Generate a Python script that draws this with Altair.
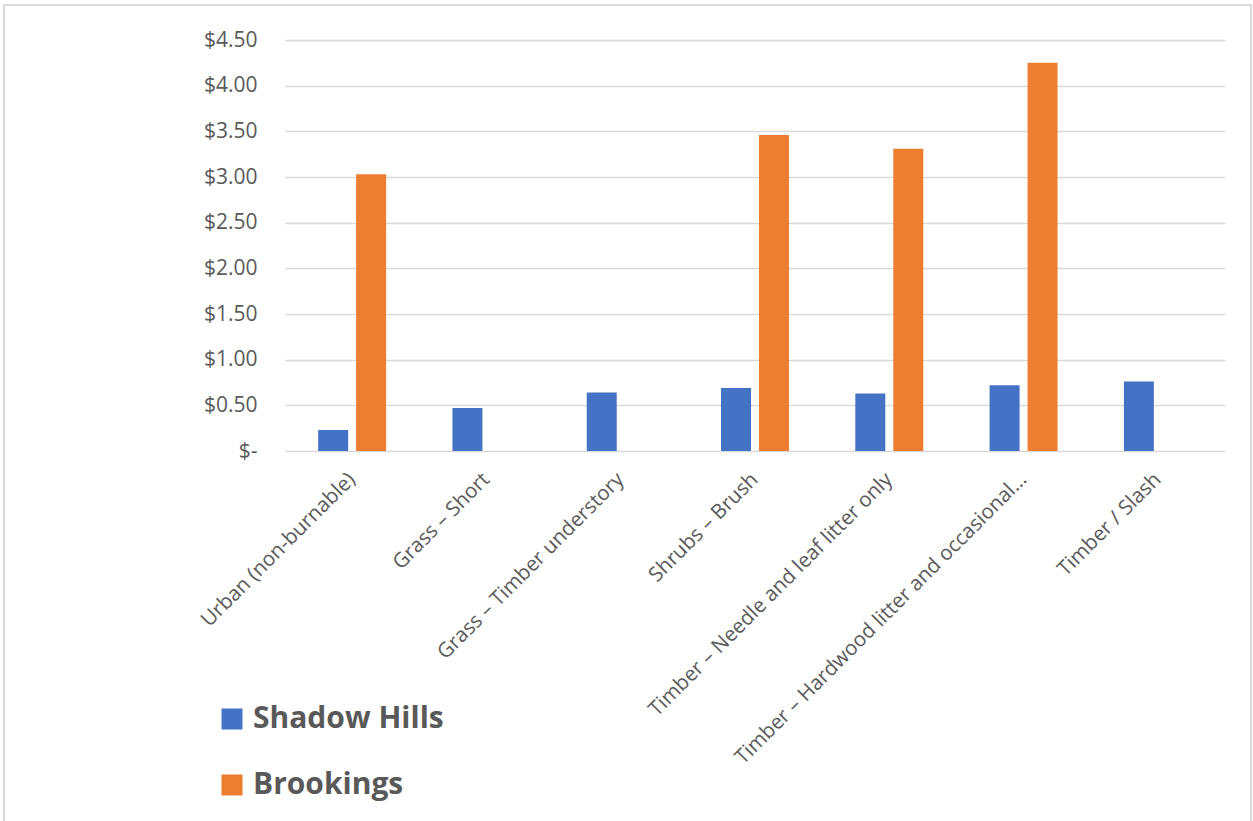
import altair as alt
import pandas as pd

# Fuel-type categories along the x axis
categories = [
    "Urban (non-burnable)",
    "Grass – Short",
    "Grass – Timber understory",
    "Shrubs – Brush",
    "Timber – Needle and leaf litter only",
    "Timber – Hardwood litter and occasional…",
    "Timber / Slash",
]
series = ["Shadow Hills", "Brookings"]

# Cost per unit for each community (None = no value reported)
shadow_hills = [0.23, 0.47, 0.64, 0.69, 0.63, 0.72, 0.76]
brookings = [3.03, None, None, 3.46, 3.31, 4.25, None]

y_ticks = [0, 0.5, 1.0, 1.5, 2.0, 2.5, 3.0, 3.5, 4.0, 4.5]
colors = ["#4472C4", "#ED7D31"]

rows = []
for name, values in zip(series, [shadow_hills, brookings]):
    for cat, v in zip(categories, values):
        if v is not None:
            rows.append({"category": cat, "series": name, "value": v})
df = pd.DataFrame(rows)

FONT = "Open Sans"
GRAY = "#595959"

bars = alt.Chart(df).mark_bar().encode(
    x=alt.X(
        "category:N",
        sort=categories,
        scale=alt.Scale(domain=categories, paddingInner=0.494, paddingOuter=0.247),
        axis=alt.Axis(
            title=None,
            labelAngle=-45,
            labelAlign="right",
            labelBaseline="middle",
            labelFontSize=20.5,
            labelColor=GRAY,
            labelFont=FONT,
            labelPadding=25,
            labelLimit=500,
            ticks=False,
            domain=False,
            grid=False,
        ),
    ),
    xOffset=alt.XOffset(
        "series:N",
        sort=series,
        scale=alt.Scale(domain=series, paddingInner=0.21, paddingOuter=0),
    ),
    y=alt.Y(
        "value:Q",
        scale=alt.Scale(domain=[0, 4.5], nice=False),
        axis=alt.Axis(
            title=None,
            values=y_ticks,
            labelExpr="datum.value == 0 ? '$-' : '$' + format(datum.value, '.2f')",
            labelFontSize=21,
            labelColor=GRAY,
            labelFont=FONT,
            labelPadding=28,
            ticks=False,
            domain=False,
            grid=True,
            gridColor="#D9D9D9",
            gridWidth=1.5,
        ),
    ),
    color=alt.Color(
        "series:N",
        sort=series,
        scale=alt.Scale(domain=series, range=colors),
        legend=alt.Legend(
            title=None,
            orient="none",
            legendX=-68,
            legendY=664,
            direction="vertical",
            symbolType="square",
            symbolSize=441,
            symbolStrokeWidth=0,
            labelFontSize=30,
            labelFontWeight="bold",
            labelColor=GRAY,
            labelFont=FONT,
            labelOffset=6,
            labelLimit=500,
            rowPadding=36,
        ),
    ),
)

# Light outline around the whole chart area
frame = alt.Chart(pd.DataFrame({"k": [0]})).mark_rect(
    fill=None, stroke="#D9D9D9", strokeWidth=2
).encode(
    x=alt.value(-281),
    x2=alt.value(966),
    y=alt.value(-35),
    y2=alt.value(800),
)

chart = alt.layer(frame, bars).properties(
    width=940,
    height=411,
    autosize=alt.AutoSizeParams(type="none"),
    padding={"left": 285, "top": 40, "right": 28, "bottom": 370},
    background="white",
).configure_view(stroke=None)

chart.save("out.html", embed_options={"renderer": "svg", "actions": False})
